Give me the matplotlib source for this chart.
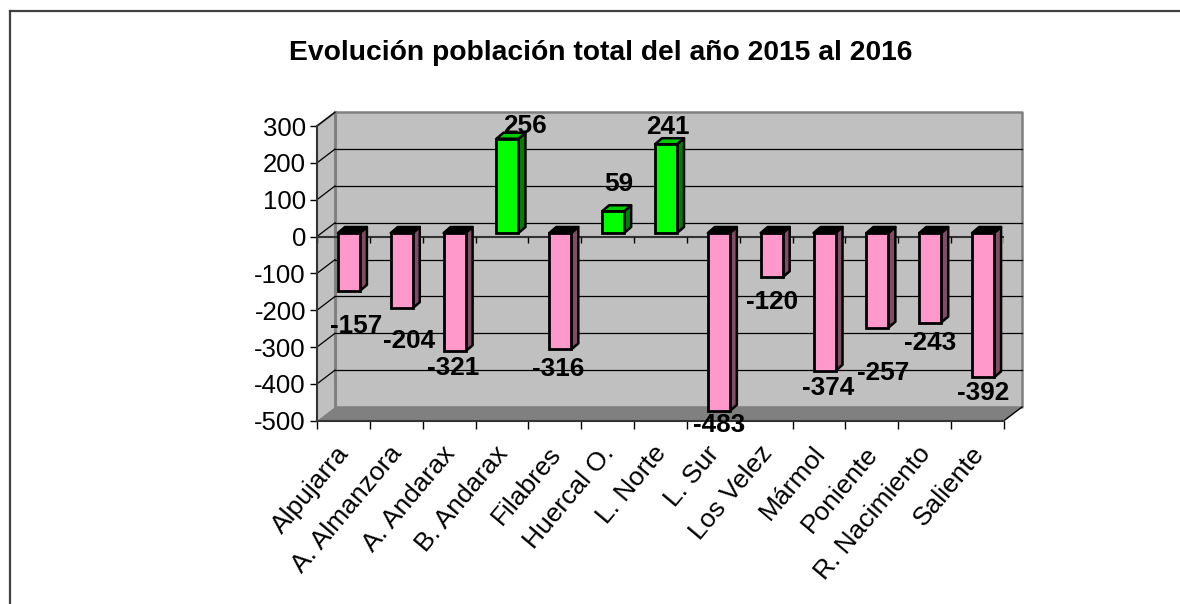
import matplotlib
matplotlib.use('Agg')
import matplotlib.pyplot as plt
from matplotlib.lines import Line2D
from matplotlib.patches import Polygon

plt.rcParams['font.family'] = ['Liberation Sans', 'DejaVu Sans']
plt.rcParams['axes.unicode_minus'] = False

comarcas = ['Alpujarra', 'A. Almanzora', 'A. Andarax', 'B. Andarax', 'Filabres', 'Huercal O.', 'L. Norte',
            'L. Sur', 'Los Velez', 'Mármol', 'Poniente', 'R. Nacimiento', 'Saliente']
evolucion = [-157, -204, -321, 256, -316, 59, 241, -483, -120, -374, -257, -243, -392]
y_ticks = [300, 200, 100, 0, -100, -200, -300, -400, -500]

# hand placed labels, pixels from the end of each bar
label_dx = [12.6, 13, 4, 23, 3, 11, 7.5, 6, 6, 9, 11, 5, 6]
label_dy = [-32, -29, -13, 16, -16, 31, 21, -11, -21, -14, -42, -17, -12]

W, H = 1180, 604
px_x = 52.85
px_y = 0.368
wall_dx = 18 / px_x
wall_dy = 13.7 / px_y
bar_dx = 7 / px_x
bar_dy = 6 / px_y
bar_w = 22 / px_x
bar_shift = 5.5 / px_x
bar_lift = 3.5 / px_y


def poly(ax, pts, color, z, edge='none', lw=0):
    ax.add_patch(Polygon(pts, closed=True, facecolor=color, edgecolor=edge, linewidth=lw,
                         zorder=z, clip_on=False, joinstyle='round'))


fig = plt.figure(figsize=(W / 100, H / 100), dpi=100)
ax = fig.add_axes([317 / W, 1 - 420.7 / H, 687 / W, 294.7 / H])
ax.set_xlim(0, 13)
ax.set_ylim(-500, 300)
ax.patch.set_visible(False)

# walls and floor
n = len(comarcas)
poly(ax, [(wall_dx, -500 + wall_dy), (n + wall_dx, -500 + wall_dy), (n + wall_dx, 300 + wall_dy), (wall_dx, 300 + wall_dy)],
     '#C0C0C0', 1, '#808080', 1.8)
poly(ax, [(0, -500), (wall_dx, -500 + wall_dy), (wall_dx, 300 + wall_dy), (0, 300)], '#C0C0C0', 1)
poly(ax, [(0, -500), (n, -500), (n + wall_dx, -500 + wall_dy), (wall_dx, -500 + wall_dy)], '#808080', 1.5)
ax.plot([wall_dx, wall_dx], [-500 + wall_dy, 300 + wall_dy], color='#808080', lw=2.2, zorder=1.6, clip_on=False)
ax.plot([0, wall_dx], [300, 300 + wall_dy], color='#808080', lw=1.5, zorder=1.6, clip_on=False)
ax.plot([n, n + wall_dx], [-500, -500 + wall_dy], color='black', lw=1, zorder=1.6, clip_on=False)

for v in y_ticks[:-1]:
    if v != 300:
        ax.plot([wall_dx, n + wall_dx], [v + wall_dy, v + wall_dy], color='black', lw=0.9, zorder=2, clip_on=False)
    ax.plot([0, wall_dx], [v, v + wall_dy], color='black', lw=0.9, zorder=2, clip_on=False)

# eje en cero
ax.axhline(0, color='#333333', lw=1.5, zorder=3)
ax.vlines(range(n + 1), -18, 0, color='black', lw=1, zorder=3)

# bars
x_pos = [i + 0.5 + bar_shift for i in range(n)]
for i, v in enumerate(evolucion):
    if v < 0:
        front, side, top = '#FF99CC', '#804D66', 'black'
    else:
        front, side, top = '#00FF00', '#008000', '#00CC00'
    z = 4 + i * 0.01
    x0 = x_pos[i] - bar_w / 2
    x1 = x_pos[i] + bar_w / 2
    y0 = bar_lift
    y1 = v + bar_lift
    hi = max(y0, y1)
    lo = min(y0, y1)
    poly(ax, [(x1, lo), (x1 + bar_dx, lo + bar_dy), (x1 + bar_dx, hi + bar_dy), (x1, hi)], side, z, 'black', 1.8)
    poly(ax, [(x0, hi), (x1, hi), (x1 + bar_dx, hi + bar_dy), (x0 + bar_dx, hi + bar_dy)], top, z, 'black', 1.8)
    ax.bar(x_pos[i], v, width=bar_w, bottom=bar_lift, color=front, edgecolor='black', linewidth=2, zorder=z, clip_on=False)

for i, v in enumerate(evolucion):
    ax.annotate(str(v), (i + 0.5, v), xytext=(label_dx[i], label_dy[i]), textcoords='offset pixels',
                ha='center', va='center', fontsize=18.8, fontweight='bold', color='black',
                zorder=6, annotation_clip=False)

# axes
for s in ['top', 'right']:
    ax.spines[s].set_visible(False)
for s in ['left', 'bottom']:
    ax.spines[s].set_color('#333333')
    ax.spines[s].set_linewidth(1.5)
    ax.spines[s].set_zorder(3)
ax.set_yticks(y_ticks)
ax.tick_params(axis='y', length=5, width=1, labelsize=18.5, pad=3)
ax.set_xticks(range(n + 1))
ax.set_xticklabels([])
ax.tick_params(axis='x', which='major', length=6, width=1)
ax.set_xticks([i + 0.36 for i in range(n)], minor=True)
ax.set_xticklabels(comarcas, minor=True, rotation=50, ha='right', rotation_mode='anchor', fontsize=19)
ax.tick_params(axis='x', which='minor', length=0, pad=15)

fig.text(601 / W, 1 - 53 / H, 'Evolución población total del año 2015 al 2016', ha='center', va='center',
         fontsize=20.3, fontweight='bold')

# chart frame, open at right and bottom
fig.add_artist(Line2D([9.5 / W, 9.5 / W], [0, 1 - 11 / H], color='#404040', lw=1.6))
fig.add_artist(Line2D([9.5 / W, 1], [1 - 11 / H, 1 - 11 / H], color='#404040', lw=1.6))

plt.savefig('out.png', dpi=100)
